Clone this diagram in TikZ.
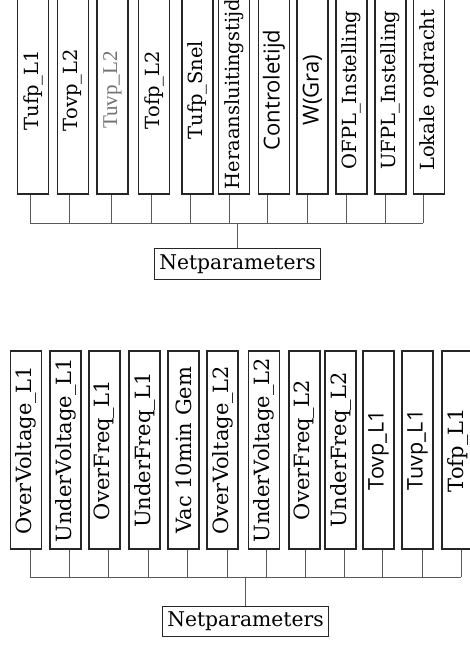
\documentclass[tikz,border=0pt]{standalone}
\usepackage{fontspec}
\setmainfont{DejaVu Serif}
\newfontfamily\sansf{Open Sans}
\newfontfamily\lightf{Liberation Serif}
\begin{document}
\begin{tikzpicture}[x=1pt,y=1pt,
  pbox/.style={draw=black!85, line width=1.7pt, rotate=90, anchor=west, fill=white,
    minimum height=31pt, inner sep=2pt, text=black, font=\fontsize{19.5}{22}\selectfont},
  tbox/.style={pbox, minimum width=208pt},
  bbox/.style={pbox, minimum width=198pt, font=\fontsize{21}{23}\selectfont},
  sans/.style={font=\sansf\fontsize{22}{24}\selectfont},
  light/.style={font=\lightf\fontsize{21}{24}\selectfont, text=black!55},
  link/.style={draw=black!65, line width=1pt},
  netbox/.style={draw=black!85, line width=1.4pt, minimum width=165.5pt, minimum height=30.5pt,
    inner sep=0pt, text=black, font=\fontsize{20.3}{24}\selectfont}
]
\useasboundingbox (0,0) rectangle (470,-648);
\clip (0,0) rectangle (470,-648);

% ---------- top group ----------
\coordinate (tbus) at (0,-223);
\node[tbox] (t1)  at (33,-195)    {Tufp\_L1};
\node[tbox] (t2)  at (73,-195)    {Tovp\_L2};
\node[tbox, light] (t3)  at (112.5,-195) {Tuvp\_L2};
\node[tbox] (t4)  at (154,-195)   {Tofp\_L2};
\node[tbox] (t5)  at (197.5,-195) {Tufp\_Snel};
\node[pbox, minimum width=200pt] (t6)  at (234,-195) {Heraansluitingstijd};
\node[tbox, sans] (t7)  at (274,-195) {Controletijd};
\node[tbox, sans] (t8)  at (312.5,-195) {W(Gra)};
\node[tbox] (t9)  at (351.5,-195) {OFPL\_Instelling};
\node[tbox] (t10) at (390.5,-195) {UFPL\_Instelling};
\node[tbox] (t11) at (429,-195)   {Lokale opdracht};

\node[netbox] (tnet) at (237.5,-264) {Netparameters};

\foreach \n/\s in {t1/-3, t2/-4, t3/-1.5, t4/-3, t5/-7.5, t6/-5, t7/-7, t8/-5.5, t9/-5.5, t10/-5.5, t11/-6}
  \draw[link] ([xshift=\s pt]\n.west) -- ([xshift=\s pt]\n.west |- tbus);
\draw[link] ([xshift=-3pt]t1.west |- tbus) -- ([xshift=-6pt]t11.west |- tbus);
\draw[link] (tnet.north) -- (tnet.north |- tbus);

% ---------- bottom group ----------
\coordinate (bbus) at (0,-577);
\node[bbox] (b1)  at (26,-550)    {OverVoltage\_L1};
\node[bbox] (b2)  at (65.5,-550)  {UnderVoltage\_L1};
\node[bbox] (b3)  at (104.5,-550) {OverFreq\_L1};
\node[bbox] (b4)  at (144.5,-550) {UnderFreq\_L1};
\node[bbox] (b5)  at (183.5,-550) {Vac 10min Gem};
\node[bbox] (b6)  at (222.5,-550) {OverVoltage\_L2};
\node[bbox] (b7)  at (264,-550)   {UnderVoltage\_L2};
\node[bbox] (b8)  at (304.5,-550) {OverFreq\_L2};
\node[bbox] (b9)  at (340.5,-550) {UnderFreq\_L2};
\node[bbox, sans, font=\sansf\fontsize{21.5}{24}\selectfont] (b10) at (378.5,-550) {Tovp\_L1};
\node[bbox, sans, font=\sansf\fontsize{21.5}{24}\selectfont] (b11) at (417.5,-550) {Tuvp\_L1};
\node[bbox] (b12) at (457.5,-550) {Tofp\_L1};

\node[netbox] (bnet) at (245.5,-621.5) {Netparameters};

\foreach \n/\s in {b1/4, b2/3.5, b3/3.5, b4/3.5, b5/3.5, b6/4.5, b7/2, b8/0.5, b9/3.5, b10/3.5, b11/4.5, b12/3.5}
  \draw[link] ([xshift=\s pt]\n.west) -- ([xshift=\s pt]\n.west |- bbus);
\draw[link] ([xshift=4pt]b1.west |- bbus) -- ([xshift=3.5pt]b12.west |- bbus);
\draw[link] (bnet.north) -- (bnet.north |- bbus);
\end{tikzpicture}
\end{document}
